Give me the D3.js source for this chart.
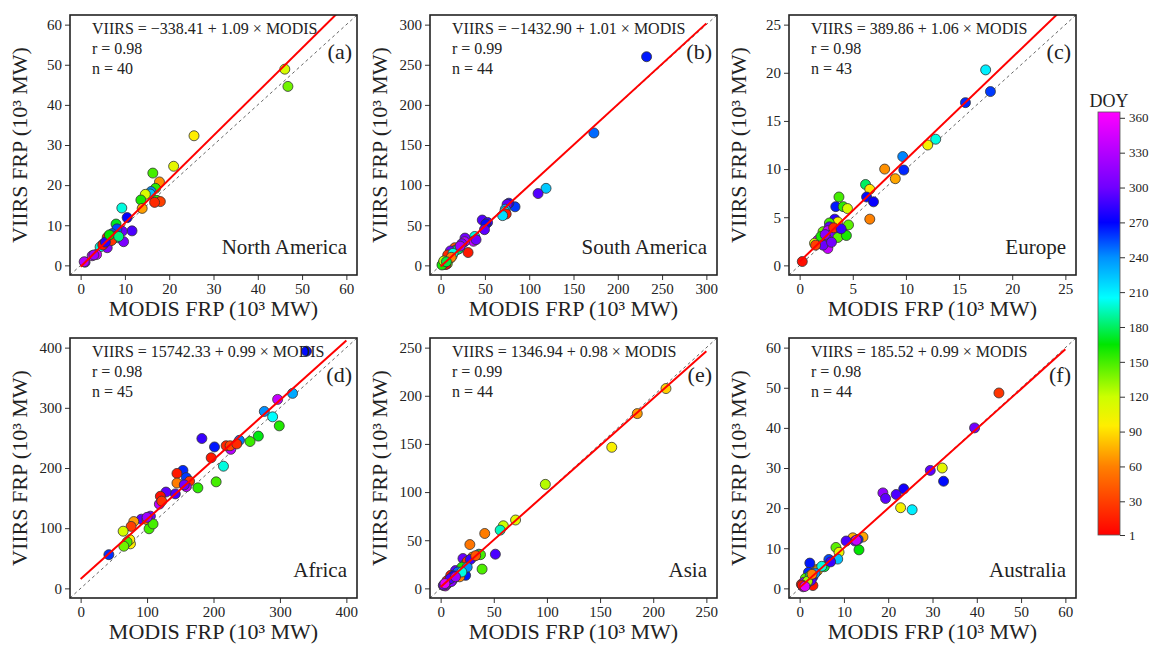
<!DOCTYPE html>
<html>
<head>
<meta charset="utf-8">
<script src="https://cdn.jsdelivr.net/npm/d3@7"></script>
<style>
  body { margin: 0; background: #fff; }
  svg text { font-family: "Liberation Serif", "Times New Roman", serif; fill: #222; }
</style>
</head>
<body>
<svg id="chart"></svg>
<script>
// [MODIS, VIIRS, DOY] in 10^3 MW
var naPoints = [
  [46.1, 48.9, 115], [46.8, 44.6, 140], [25.6, 32.3, 95], [21.0, 24.7, 108], [16.3, 23.0, 150],
  [17.8, 20.8, 65], [16.9, 19.2, 155], [15.9, 18.4, 240], [15.7, 17.8, 225], [14.6, 17.7, 115],
  [13.6, 16.3, 160], [17.2, 16.2, 155], [18.0, 15.9, 30], [16.7, 15.7, 20], [13.9, 14.2, 70],
  [9.3, 14.3, 200], [10.5, 11.9, 270], [8.0, 10.3, 170], [11.6, 8.6, 290], [9.4, 8.5, 300],
  [8.2, 9.1, 255], [8.3, 6.9, 190], [9.7, 5.9, 305], [7.1, 7.9, 250], [6.0, 7.0, 15],
  [6.6, 6.1, 10], [7.4, 7.3, 280], [6.0, 4.4, 310], [5.1, 5.3, 245], [4.4, 4.6, 200],
  [3.6, 2.7, 345], [2.6, 2.4, 335], [3.0, 2.6, 320], [1.0, 0.8, 315], [0.8, 0.9, 330],
  [5.0, 5.1, 10], [7.0, 6.2, 25], [5.6, 5.8, 280], [6.5, 7.6, 165], [8.6, 7.2, 185]
];
var saPoints = [
  [232.5, 260.0, 265], [173.0, 165.0, 248], [119.0, 96.0, 222], [110.0, 89.5, 292], [84.0, 73.0, 258],
  [77.0, 77.5, 278], [75.0, 76.0, 295], [73.0, 70.0, 232], [72.5, 67.0, 205], [74.0, 64.0, 12],
  [70.0, 62.0, 215], [47.0, 56.5, 292], [53.0, 53.5, 285], [51.0, 51.5, 268], [49.5, 44.5, 295],
  [38.5, 36.0, 200], [37.0, 30.0, 335], [40.0, 32.0, 300], [27.5, 34.0, 300], [27.0, 29.5, 330],
  [31.0, 16.0, 12], [24.0, 27.0, 305], [21.0, 21.0, 190], [16.0, 22.0, 40], [17.0, 19.0, 340],
  [11.0, 18.0, 300], [19.5, 20.0, 180], [13.0, 12.0, 100], [10.5, 8.5, 120], [5.5, 6.0, 155],
  [4.0, 4.0, 165], [7.5, 2.0, 135], [4.5, 1.5, 10], [9.0, 10.0, 95], [8.0, 13.0, 20],
  [6.0, 1.0, 5], [3.0, 3.0, 145], [2.5, 1.5, 50], [14.0, 15.0, 200], [22.0, 24.0, 320],
  [1.5, 0.5, 160], [12.0, 10.0, 60], [3.5, 5.5, 125], [6.5, 4.5, 175]
];
var euPoints = [
  [17.5, 20.3, 210], [17.95, 18.05, 258], [15.6, 16.9, 262], [12.8, 13.1, 200], [12.05, 12.5, 100],
  [9.7, 11.3, 242], [9.8, 9.9, 262], [8.0, 10.0, 65], [9.0, 9.0, 72], [6.2, 8.4, 180],
  [6.6, 7.9, 92], [6.3, 7.1, 268], [6.95, 6.6, 272], [6.6, 4.8, 60], [3.7, 7.1, 150],
  [3.4, 6.1, 265], [4.1, 6.1, 155], [4.5, 5.9, 115], [4.6, 4.2, 145], [3.3, 4.8, 282],
  [3.6, 4.5, 95], [2.8, 4.4, 150], [4.0, 3.5, 290], [2.2, 3.5, 140], [2.8, 4.0, 295],
  [2.65, 3.6, 335], [3.45, 3.6, 300], [3.1, 3.3, 305], [3.6, 2.9, 145], [4.4, 3.1, 160],
  [2.5, 2.8, 340], [1.7, 2.6, 350], [1.4, 2.3, 115], [2.65, 2.1, 345], [2.65, 1.75, 338],
  [2.2, 2.1, 298], [0.25, 0.4, 8], [3.0, 2.4, 302], [2.0, 3.0, 160], [3.2, 3.9, 20],
  [2.4, 3.2, 310], [1.5, 2.1, 30], [3.9, 3.8, 285]
];
var afPoints = [
  [340, 394, 268], [319, 324, 232], [296.5, 314, 338], [276.5, 294, 240], [289, 285, 205],
  [299, 270, 158], [267.5, 253, 168], [255, 244, 152], [239, 246, 245], [226, 231, 332],
  [219, 237, 18], [225, 237, 32], [196.5, 217, 12], [215, 203, 200], [204, 177, 150],
  [182.5, 249, 285], [201.5, 235, 265], [154, 196, 262], [159, 184, 258], [145, 191, 12],
  [145, 175, 58], [164, 178, 22], [159, 169, 335], [176.5, 167, 155], [142.5, 157, 290],
  [128.5, 160, 295], [120, 153, 8], [118.5, 140, 335], [105, 120, 300], [91.5, 115, 295],
  [100, 114, 55], [103, 99, 150], [109, 107, 150], [80, 111, 70], [76, 103, 30],
  [64, 95, 115], [75, 74, 95], [74, 81, 95], [70, 77, 150], [65, 70, 140],
  [42.5, 56, 260], [122, 145, 25], [156, 172, 300], [235, 240, 20], [100, 118, 320]
];
var asPoints = [
  [212, 207.5, 85], [185, 181.5, 68], [161, 146.5, 98], [98.5, 108, 125], [70.5, 71, 110],
  [59, 65, 120], [56, 60.5, 195], [41.5, 57, 58], [27.5, 45.5, 55], [51.5, 35.5, 290],
  [36, 35.5, 225], [37.5, 35, 150], [39, 20, 148], [30, 32.5, 72], [21, 31, 298],
  [23.5, 25.5, 175], [22, 20.5, 255], [23.5, 13.5, 265], [14, 18.5, 295], [9.5, 13.5, 10],
  [11, 8.5, 300], [6.5, 5, 305], [2.5, 3, 330], [4.5, 2.5, 340], [7.5, 6.5, 345],
  [18, 12, 60], [25, 28, 20], [28, 30, 285], [20, 22, 160], [15, 15, 230],
  [12, 11, 40], [8, 9, 280], [5, 4, 320], [3, 3.5, 300], [10, 7, 310],
  [16, 17, 250], [25, 22, 240], [12, 13, 270], [6, 8, 15], [20, 17, 200],
  [9, 10, 290], [4, 5, 350], [33, 34, 40], [14, 12, 320]
];
var auPoints = [
  [45, 48.7, 25], [39.5, 40, 300], [32.2, 30, 108], [29.5, 29.4, 295], [32.5, 26.7, 268],
  [23.5, 24.8, 275], [21.8, 23.4, 290], [18.8, 23.8, 315], [19.4, 22.4, 295], [22.8, 20.1, 100],
  [25.4, 19.6, 210], [14.3, 12.8, 72], [12.0, 12.6, 75], [13.2, 12.2, 262], [12.5, 11.8, 305],
  [10.5, 11.8, 290], [13.4, 9.6, 165], [8.2, 10.2, 145], [8.9, 9.0, 105], [8.6, 7.3, 225],
  [6.8, 7.0, 320], [6.6, 7.2, 255], [5.6, 5.4, 175], [3.9, 4.7, 62], [2.3, 6.3, 265],
  [2.0, 4.0, 262], [3.0, 2.9, 275], [1.3, 2.5, 145], [3.0, 0.7, 10], [0.4, 1.0, 15],
  [0.8, 0.4, 335], [1.6, 1.2, 300], [2.4, 3.2, 180], [4.0, 4.4, 70], [1.0, 1.5, 320],
  [2.6, 2.0, 290], [5.0, 5.5, 200], [1.8, 1.8, 130], [0.6, 0.8, 5], [3.5, 3.8, 240],
  [7.0, 6.6, 285], [1.2, 0.5, 350], [2.8, 3.5, 60], [12.8, 12.0, 340]
];

var regions = ["North America", "South America", "Europe", "Africa", "Asia", "Australia"];
var panelTags = ["(a)", "(b)", "(c)", "(d)", "(e)", "(f)"];
var intercepts = [-338.41, -1432.90, 389.86, 15742.33, 1346.94, 185.52]; // MW
var slopes = [1.09, 1.01, 1.06, 0.99, 0.98, 0.99];
var rValues = [0.98, 0.99, 0.98, 0.98, 0.99, 0.98];
var nValues = [40, 44, 43, 45, 44, 44];
var axisMax = [60, 300, 25, 400, 250, 60];
var tickStep = [10, 50, 5, 100, 50, 10];
var allPoints = [naPoints, saPoints, euPoints, afPoints, asPoints, auPoints];

var doyTicks = [1, 30, 60, 90, 120, 150, 180, 210, 240, 270, 300, 330, 360];
var doyStops = [1, 60, 95, 120, 165, 205, 240, 270, 300, 365];
var doyColors = ["#ff0000", "#ff8000", "#ffee00", "#ccff00", "#00e600", "#00ffff", "#0090ff", "#0000ff", "#7000ff", "#ff00ff"];

var svg = d3.select("#chart").attr("width", 1153).attr("height", 647);
var defs = svg.append("defs");
var colLeft = [70, 430, 789], rowTop = [15, 338];
var pw = 287, ph = 260;

var doyColor = d3.scaleLinear().domain(doyStops).range(doyColors).interpolate(d3.interpolateRgb);

function fmtEq(a, b) {
  var s = a < 0 ? "\u2212" + Math.abs(a).toFixed(2) : a.toFixed(2);
  return "VIIRS = " + s + " + " + b.toFixed(2) + " \u00d7 MODIS";
}

regions.forEach(function (name, i) {
  var left = colLeft[i % 3], top = rowTop[Math.floor(i / 3)];
  var m = axisMax[i], pad = m * 0.04;
  var x = d3.scaleLinear().domain([-pad, m + pad]).range([left, left + pw]);
  var y = d3.scaleLinear().domain([-pad, m + pad]).range([top + ph, top]);
  var ticks = d3.range(0, m + 1e-9, tickStep[i]);
  var g = svg.append("g");

  defs.append("clipPath").attr("id", "clip" + i)
    .append("rect").attr("x", left).attr("y", top).attr("width", pw).attr("height", ph);

  var xa = g.append("g").attr("transform", "translate(0," + (top + ph) + ")")
    .call(d3.axisBottom(x).tickValues(ticks).tickSize(5).tickPadding(3).tickFormat(d3.format("d")));
  var ya = g.append("g").attr("transform", "translate(" + left + ",0)")
    .call(d3.axisLeft(y).tickValues(ticks).tickSize(5).tickPadding(3).tickFormat(d3.format("d")));
  [xa, ya].forEach(function (a) {
    a.select(".domain").remove();
    a.selectAll("line").attr("stroke", "#333");
    a.selectAll("text").style("font-size", "15px").attr("fill", "#333");
  });

  var plot = g.append("g").attr("clip-path", "url(#clip" + i + ")");
  // 1:1 line
  plot.append("line")
    .attr("x1", x(-pad)).attr("y1", y(-pad)).attr("x2", x(m + pad)).attr("y2", y(m + pad))
    .attr("stroke", "#666").attr("stroke-width", 1).attr("stroke-dasharray", "3,3");

  plot.selectAll("circle").data(allPoints[i]).enter().append("circle")
    .attr("cx", function (d) { return x(d[0]); })
    .attr("cy", function (d) { return y(d[1]); })
    .attr("r", 5)
    .attr("fill", function (d) { return doyColor(d[2]); })
    .attr("stroke", "#333").attr("stroke-width", 0.8);

  // regression line (intercept in MW -> 10^3 MW)
  var a0 = intercepts[i] / 1000, b0 = slopes[i];
  plot.append("line")
    .attr("x1", x(0)).attr("y1", y(a0)).attr("x2", x(m)).attr("y2", y(a0 + b0 * m))
    .attr("stroke", "#ff0000").attr("stroke-width", 2);

  g.append("rect").attr("x", left).attr("y", top).attr("width", pw).attr("height", ph)
    .attr("fill", "none").attr("stroke", "#222").attr("stroke-width", 1.6);

  var info = [fmtEq(intercepts[i], slopes[i]), "r = " + rValues[i].toFixed(2), "n = " + nValues[i]];
  info.forEach(function (t, k) {
    g.append("text").attr("x", left + 22).attr("y", top + 18.5 + k * 20)
      .style("font-size", "16px").text(t);
  });
  g.append("text").attr("x", left + pw - 5).attr("y", top + 44)
    .attr("text-anchor", "end").style("font-size", "22px").text(panelTags[i]);
  g.append("text").attr("x", left + pw - 10).attr("y", top + ph - 21)
    .attr("text-anchor", "end").style("font-size", "21px").text(name);

  g.append("text").attr("x", left + pw / 2).attr("y", top + ph + 41)
    .attr("text-anchor", "middle").style("font-size", "22px").text("MODIS FRP (10\u00b3 MW)");
  g.append("text")
    .attr("transform", "translate(" + (left - 43) + "," + (top + ph / 2) + ") rotate(-90)")
    .attr("text-anchor", "middle").style("font-size", "22px").text("VIIRS FRP (10\u00b3 MW)");
});

// colour bar
var cbX = 1098, cbW = 22, cbTop = 112, cbBottom = 535;
var grad = defs.append("linearGradient").attr("id", "doyGrad")
  .attr("x1", 0).attr("y1", 1).attr("x2", 0).attr("y2", 0);
doyStops.forEach(function (d, k) {
  grad.append("stop").attr("offset", (d - 1) / 364).attr("stop-color", doyColors[k]);
});
svg.append("rect").attr("x", cbX).attr("y", cbTop).attr("width", cbW).attr("height", cbBottom - cbTop)
  .attr("fill", "url(#doyGrad)").attr("stroke", "#555").attr("stroke-width", 0.8);
var cb = d3.scaleLinear().domain([1, 365]).range([cbBottom, cbTop]);
var cbAxis = svg.append("g").attr("transform", "translate(" + (cbX + cbW) + ",0)")
  .call(d3.axisRight(cb).tickValues(doyTicks).tickSize(5).tickPadding(4));
cbAxis.select(".domain").remove();
cbAxis.selectAll("line").attr("stroke", "#333");
cbAxis.selectAll("text").style("font-size", "13px").attr("fill", "#333");
svg.append("text").attr("x", cbX + cbW / 2).attr("y", cbTop - 5)
  .attr("text-anchor", "middle").style("font-size", "18px").text("DOY");
</script>
</body>
</html>
